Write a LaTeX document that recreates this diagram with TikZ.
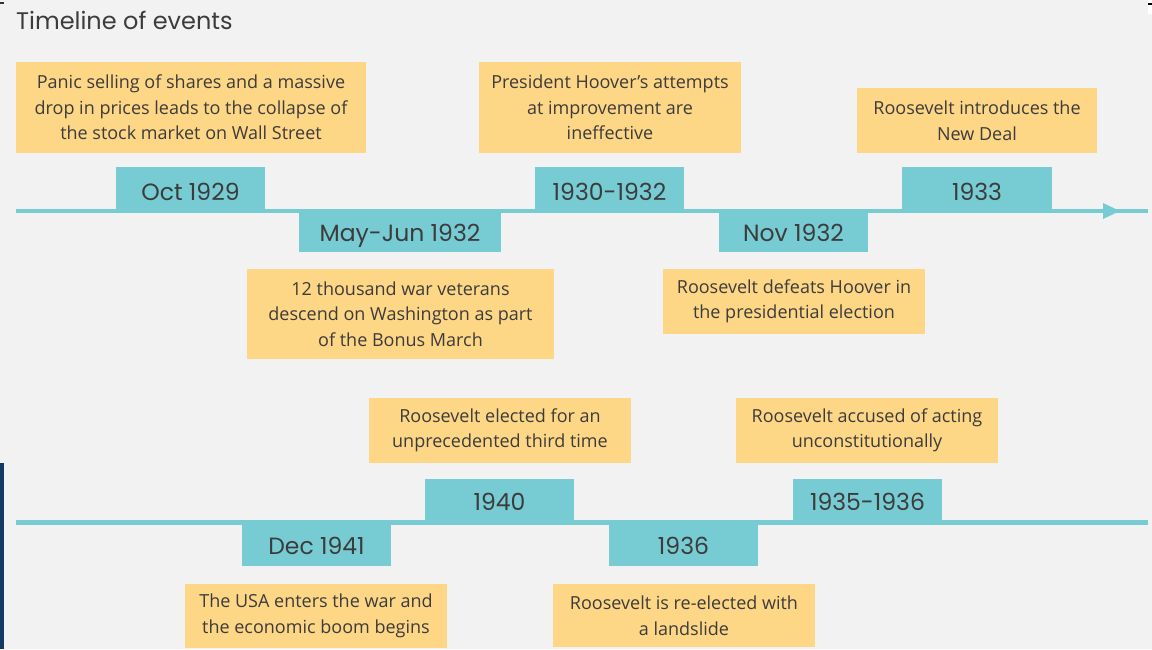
\documentclass[tikz,border=0pt]{standalone}
\usepackage{fontspec}
\setmainfont{Open Sans}
\newfontfamily\datefont{Poppins}
\definecolor{bgc}{HTML}{F2F2F2}
\definecolor{teal}{HTML}{77CBD3}
\definecolor{orng}{HTML}{FDD686}
\definecolor{txt}{HTML}{3C3C3C}
\definecolor{navy}{HTML}{123A62}
\tikzset{
  datebox/.style={fill=teal, draw=none, inner sep=0pt, minimum width=149pt,
    text=txt, font=\datefont\fontsize{23.5}{27}\selectfont, text height=20pt, text depth=0pt},
  dateboxlow/.style={datebox, text height=18pt},
  evbox/.style={fill=orng, draw=none, inner sep=0pt, text=txt, align=center,
    font=\fontsize{18}{25.5}\selectfont},
  tline/.style={draw=teal, line width=4.5pt}
}
\begin{document}
\begin{tikzpicture}[x=1pt,y=-1pt]
\fill[bgc] (0,0) rectangle (1152,649);
\useasboundingbox (0,0) rectangle (1152,649);
\fill[navy] (0,463) rectangle (4,649);
\fill[black!80] (0,2) rectangle (4,4);
\fill[white] (1148,0) rectangle (1152,14);
\fill[black] (1148,3) rectangle (1152,5);

\node[anchor=base west, text=txt, font=\datefont\fontsize{24}{28}\selectfont, inner sep=0pt] (title) at (16,29.5) {Timeline of events};

% top row
\node[datebox, minimum height=46pt] (d1) at (190.5,190) {Oct 1929};
\node[datebox, minimum height=46pt] (d3) at (609.5,190) {1930-1932};
\node[datebox, minimum height=46pt, minimum width=150pt] (d5) at (977,190) {1933};
\coordinate (l1s) at (16,211);
\coordinate (l1e) at (1148,211);
\draw[tline] (l1s) -- (l1e);
\fill[teal] (1103,203) -- (1120,211) -- (1103,219) -- cycle;
\node[dateboxlow, minimum height=39pt, minimum width=202pt] (d2) at (400,232.5) {May-Jun 1932};
\node[dateboxlow, minimum height=39pt] (d4) at (793.5,232.5) {Nov 1932};

\node[evbox, minimum width=350pt, minimum height=91pt] (e1) at (191,107.5) {Panic selling of shares and a massive\\drop in prices leads to the collapse of\\the stock market on Wall Street};
\node[evbox, minimum width=262pt, minimum height=91pt] (e3) at (610,107.5) {President Hoover’s attempts\\at improvement are\\ineffective};
\node[evbox, minimum width=240pt, minimum height=65pt] (e5) at (977,120.5) {Roosevelt introduces the\\New Deal};
\node[evbox, minimum width=307pt, minimum height=90pt] (e2) at (400.5,314) {12 thousand war veterans\\descend on Washington as part\\of the Bonus March};
\node[evbox, minimum width=262pt, minimum height=65pt] (e4) at (794,301.5) {Roosevelt defeats Hoover in\\the presidential election};

% bottom row
\node[datebox, minimum height=43pt] (f1) at (499.5,500.5) {1940};
\node[datebox, minimum height=43pt] (f3) at (867.5,500.5) {1935-1936};
\coordinate (l2s) at (16,522.5);
\coordinate (l2e) at (1148,522.5);
\draw[tline] (l2s) -- (l2e);
\node[dateboxlow, minimum height=41pt] (f2) at (316.5,545.5) {Dec 1941};
\node[dateboxlow, minimum height=41pt] (f4) at (683.5,545.5) {1936};

\node[evbox, minimum width=262pt, minimum height=65pt] (g1) at (500,430.5) {Roosevelt elected for an\\unprecedented third time};
\node[evbox, minimum width=262pt, minimum height=65pt] (g3) at (867,430.5) {Roosevelt accused of acting\\unconstitutionally};
\node[evbox, minimum width=262pt, minimum height=64pt] (g2) at (316,616) {The USA enters the war and\\the economic boom begins};
\node[evbox, minimum width=262pt, minimum height=63pt] (g4) at (684,615.5) {Roosevelt is re-elected with\\a landslide};
\end{tikzpicture}
\end{document}
